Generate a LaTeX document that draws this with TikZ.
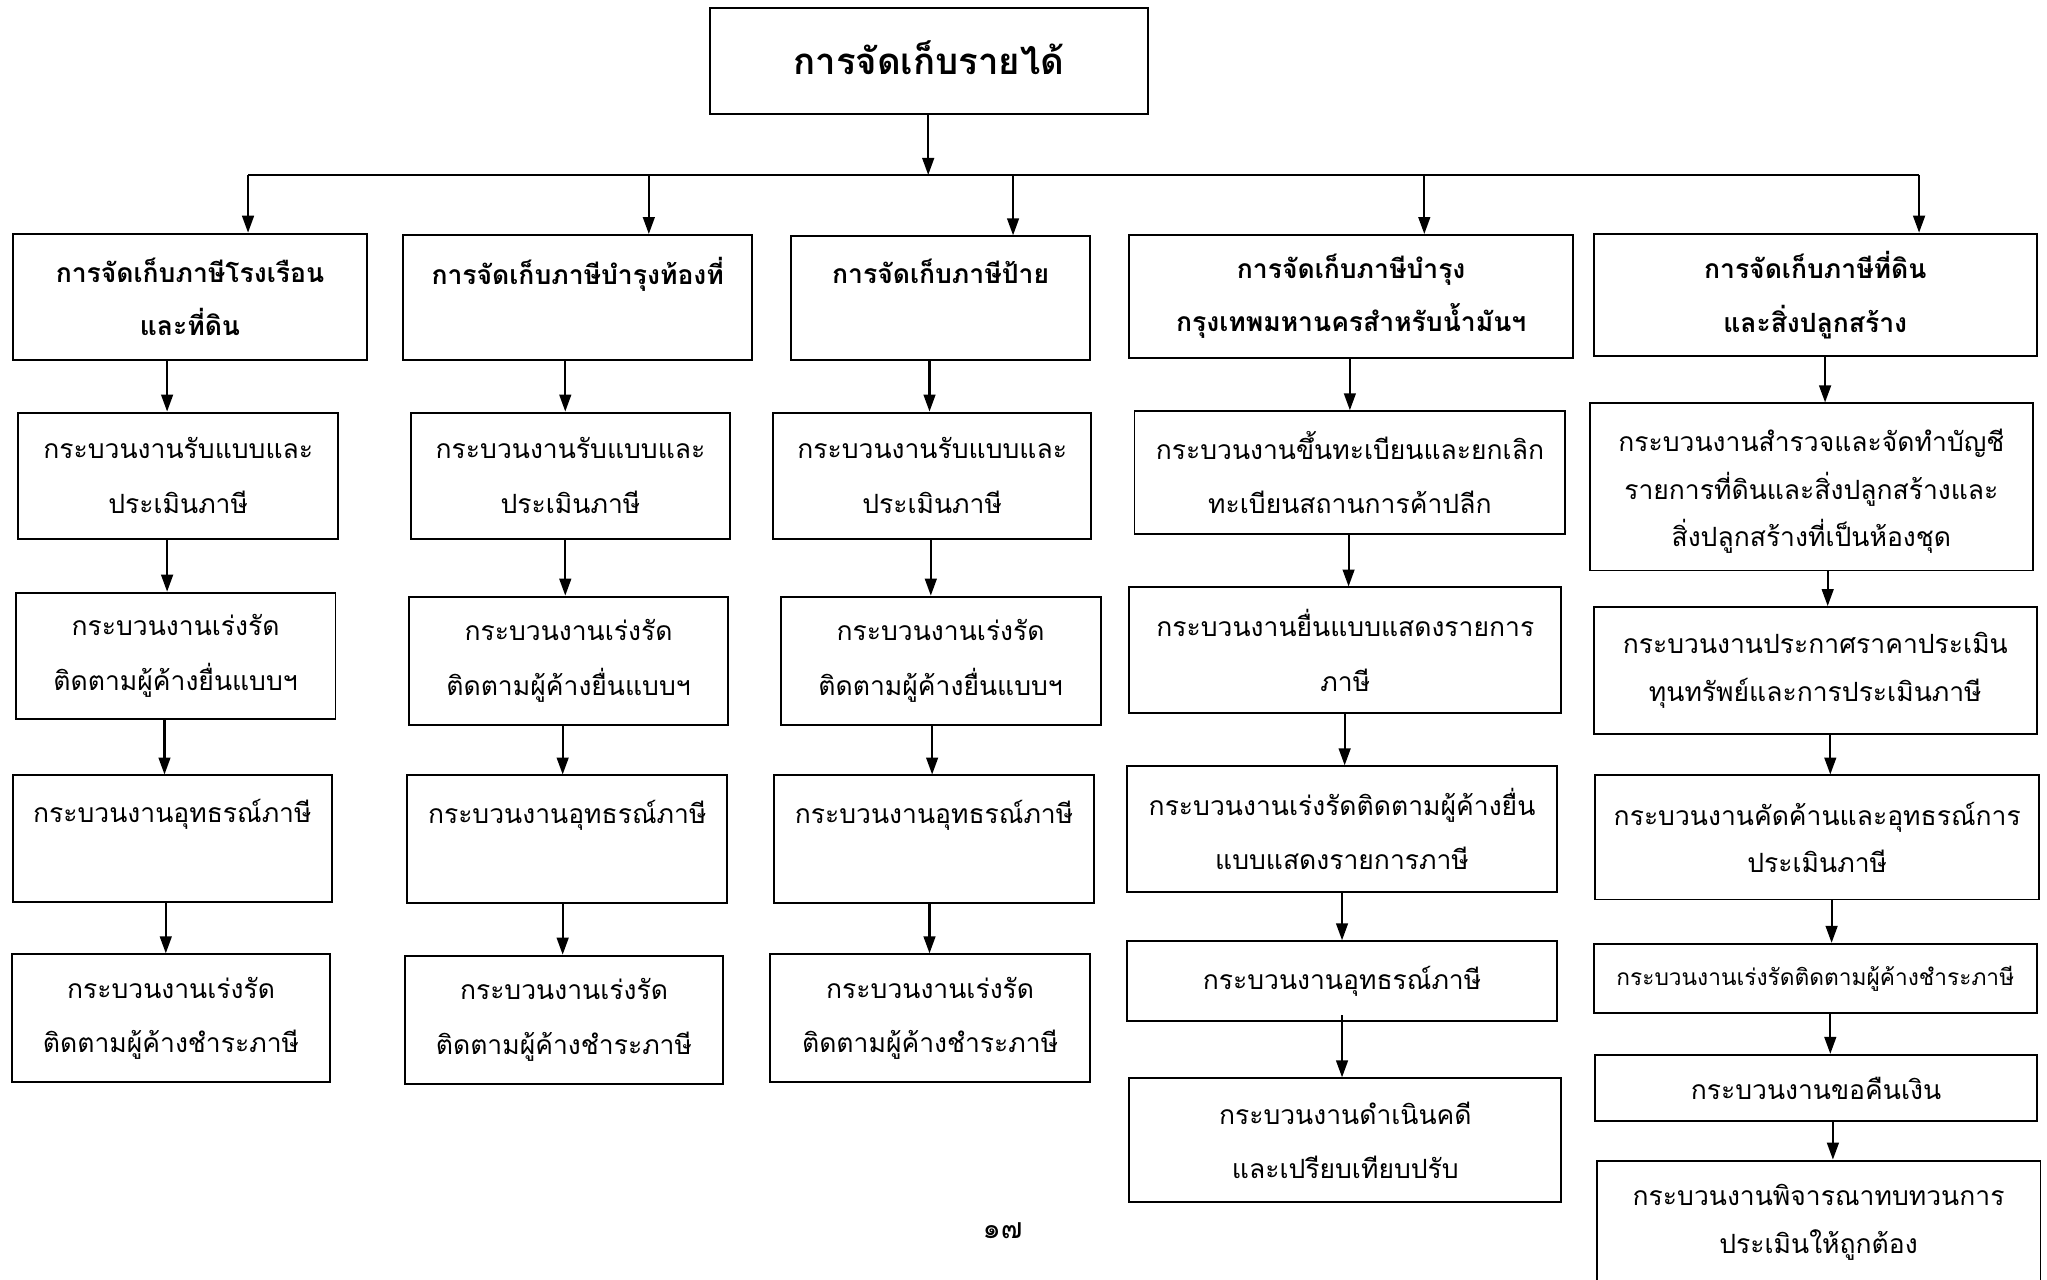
\documentclass[tikz,border=0pt]{standalone}
\usepackage{fontspec}
\usetikzlibrary{arrows.meta}
\newfontfamily\thaifont[Script=Thai]{Loma}
\begin{document}
\begin{tikzpicture}[x=1pt,y=-1pt,
  box/.style={draw, line width=1.5pt, rectangle, inner sep=0pt, align=center,
    font={\thaifont\fontsize{20.3}{42}\selectfont}},
  tight/.style={font={\thaifont\fontsize{20.3}{36.5}\selectfont}},
  head/.style={box, font={\thaifont\bfseries\fontsize{20.3}{41}\selectfont}},
  arr/.style={line width=1.6pt, -{Triangle[length=13pt,width=9pt]}},
]
\useasboundingbox (0,0) rectangle (1568,980);

% title and branch bar
\node[box, font={\thaifont\bfseries\fontsize{28}{32}\selectfont},
      minimum width=335, minimum height=81] (top) at (711.5,46.5) {\raisebox{5pt}{การจัดเก็บรายได้}};
\coordinate (bar) at (711,134);
\coordinate (barL) at (190,134);
\coordinate (barR) at (1470,134);
\draw[arr] (top.south -| bar) -- (bar);
\draw[line width=1.6pt] (barL) -- (barR);

% tax headings
\node[head, minimum width=271, minimum height=97] (h1) at (145.5,227.5) {การจัดเก็บภาษีโรงเรือน\\และที่ดิน};
\node[head, minimum width=267, minimum height=96] (h2) at (442.5,228) {การจัดเก็บภาษีบำรุงท้องที่\\\mbox{}};
\node[head, minimum width=229, minimum height=95] (h3) at (720.5,228.5) {การจัดเก็บภาษีป้าย\\\mbox{}};
\node[head, minimum width=340, minimum height=94] (h4) at (1035,227) {การจัดเก็บภาษีบำรุง\\กรุงเทพมหานครสำหรับน้ำมันฯ};
\node[head, minimum width=339, minimum height=94] (h5) at (1390.5,226) {การจัดเก็บภาษีที่ดิน\\และสิ่งปลูกสร้าง};

\draw[arr] (barL) -- (barL |- h1.north);
\draw[arr] (497,134 |- bar) -- (497,134 |- h2.north);
\draw[arr] (776,134 |- bar) -- (776,134 |- h3.north);
\draw[arr] (1091,134 |- bar) -- (1091,134 |- h4.north);
\draw[arr] (barR) -- (barR |- h5.north);

% column 1
\node[box, minimum width=245, minimum height=97] (a1) at (136.5,364.5) {กระบวนงานรับแบบและ\\ประเมินภาษี};
\node[box, minimum width=245, minimum height=97] (a2) at (134.5,502.5) {กระบวนงานเร่งรัด\\ติดตามผู้ค้างยื่นแบบฯ};
\node[box, minimum width=244, minimum height=97] (a3) at (132,642.5) {กระบวนงานอุทธรณ์ภาษี\\\mbox{}};
\node[box, minimum width=244, minimum height=98] (a4) at (131,780) {กระบวนงานเร่งรัด\\ติดตามผู้ค้างชำระภาษี};
\draw[arr] (h1.south -| 128,0) -- (a1.north -| 128,0);
\draw[arr] (a1.south -| 128,0) -- (a2.north -| 128,0);
\draw[arr] (a2.south -| 126,0) -- (a3.north -| 126,0);
\draw[arr] (a3.south -| 127,0) -- (a4.north -| 127,0);

% column 2
\node[box, minimum width=244, minimum height=97] (b1) at (437,364.5) {กระบวนงานรับแบบและ\\ประเมินภาษี};
\node[box, minimum width=245, minimum height=98] (b2) at (435.5,506) {กระบวนงานเร่งรัด\\ติดตามผู้ค้างยื่นแบบฯ};
\node[box, minimum width=245, minimum height=98] (b3) at (434.5,643) {กระบวนงานอุทธรณ์ภาษี\\\mbox{}};
\node[box, minimum width=244, minimum height=98] (b4) at (432,781) {กระบวนงานเร่งรัด\\ติดตามผู้ค้างชำระภาษี};
\draw[arr] (h2.south -| 433,0) -- (b1.north -| 433,0);
\draw[arr] (b1.south -| 433,0) -- (b2.north -| 433,0);
\draw[arr] (b2.south -| 431,0) -- (b3.north -| 431,0);
\draw[arr] (b3.south -| 431,0) -- (b4.north -| 431,0);

% column 3
\node[box, minimum width=244, minimum height=97] (c1) at (714,364.5) {กระบวนงานรับแบบและ\\ประเมินภาษี};
\node[box, minimum width=245, minimum height=98] (c2) at (720.5,506) {กระบวนงานเร่งรัด\\ติดตามผู้ค้างยื่นแบบฯ};
\node[box, minimum width=245, minimum height=98] (c3) at (715.5,643) {กระบวนงานอุทธรณ์ภาษี\\\mbox{}};
\node[box, minimum width=245, minimum height=98] (c4) at (712.5,780) {กระบวนงานเร่งรัด\\ติดตามผู้ค้างชำระภาษี};
\draw[arr] (h3.south -| 712,0) -- (c1.north -| 712,0);
\draw[arr] (c1.south -| 713,0) -- (c2.north -| 713,0);
\draw[arr] (c2.south -| 714,0) -- (c3.north -| 714,0);
\draw[arr] (c3.south -| 712,0) -- (c4.north -| 712,0);

% column 4
\node[box, minimum width=330, minimum height=94] (d1) at (1034,362) {กระบวนงานขึ้นทะเบียนและยกเลิก\\ทะเบียนสถานการค้าปลีก};
\node[box, minimum width=331, minimum height=96] (d2) at (1030.5,498) {กระบวนงานยื่นแบบแสดงรายการ\\ภาษี};
\node[box, minimum width=330, minimum height=96] (d3) at (1028,635) {กระบวนงานเร่งรัดติดตามผู้ค้างยื่น\\แบบแสดงรายการภาษี};
\node[box, minimum width=330, minimum height=61] (d4) at (1028,751.5) {กระบวนงานอุทธรณ์ภาษี};
\node[box, minimum width=331, minimum height=95] (d5) at (1030.5,873.5) {กระบวนงานดำเนินคดี\\และเปรียบเทียบปรับ};
\draw[arr] (h4.south -| 1034,0) -- (d1.north -| 1034,0);
\draw[arr] (d1.south -| 1033,0) -- (d2.north -| 1033,0);
\draw[arr] (d2.south -| 1030,0) -- (d3.north -| 1030,0);
\draw[arr] (d3.south -| 1028,0) -- (d4.north -| 1028,0);
\draw[arr] ([yshift=5]d4.south -| 1028,0) -- (d5.north -| 1028,0);

% column 5
\node[box, tight, minimum width=339, minimum height=128] (e1) at (1387.5,373) {\rule{0pt}{24pt}กระบวนงานสำรวจและจัดทำบัญชี\\รายการที่ดินและสิ่งปลูกสร้างและ\\สิ่งปลูกสร้างที่เป็นห้องชุด};
\node[box, tight, minimum width=339, minimum height=97] (e2) at (1390.5,513.5) {กระบวนงานประกาศราคาประเมิน\\ทุนทรัพย์และการประเมินภาษี};
\node[box, tight, minimum width=340, minimum height=95] (e3) at (1392,641.5) {กระบวนงานคัดค้านและอุทธรณ์การ\\ประเมินภาษี};
\node[box, tight, font={\thaifont\fontsize{17.4}{20}\selectfont}, minimum width=339, minimum height=53] (e4) at (1390.5,749.5) {กระบวนงานเร่งรัดติดตามผู้ค้างชำระภาษี};
\node[box, tight, minimum width=338, minimum height=51] (e5) at (1391,833.5) {กระบวนงานขอคืนเงิน};
\node[box, tight, minimum width=340, minimum height=95] (e6) at (1393,936.5) {กระบวนงานพิจารณาทบทวนการ\\ประเมินให้ถูกต้อง};
\draw[arr] (h5.south -| 1398,0) -- (e1.north -| 1398,0);
\draw[arr] (e1.south -| 1400,0) -- (e2.north -| 1400,0);
\draw[arr] (e2.south -| 1402,0) -- (e3.north -| 1402,0);
\draw[arr] (e3.south -| 1403,0) -- (e4.north -| 1403,0);
\draw[arr] (e4.south -| 1402,0) -- (e5.north -| 1402,0);
\draw[arr] (e5.south -| 1404,0) -- (e6.north -| 1404,0);

% page number
\node[font={\thaifont\fontsize{22}{24}\selectfont}] (page) at (768,943) {๑๗};
\end{tikzpicture}
\end{document}
